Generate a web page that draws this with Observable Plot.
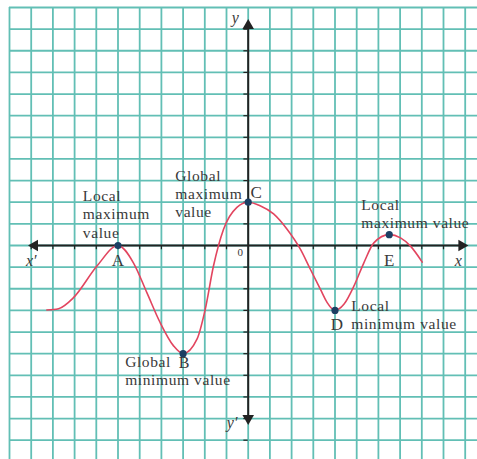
<!DOCTYPE html>
<html>
<head>
<meta charset="utf-8">
<script src="https://cdn.jsdelivr.net/npm/d3@7"></script>
<script src="https://cdn.jsdelivr.net/npm/@observablehq/plot@0.6"></script>
<style>
  html, body { margin: 0; padding: 0; background: #fff; }
  #chart svg { display: block; }
  #chart .note text, #chart text.note { letter-spacing: 0.6px; }
</style>
</head>
<body>
<div id="chart"></div>
<script>
// Graph-paper lines (one per unit)
const gridX = [-11, -10, -9, -8, -7, -6, -5, -4, -3, -2, -1, 0, 1, 2, 3, 4, 5, 6, 7, 8, 9, 10];
const gridY = [11, 10, 9, 8, 7, 6, 5, 4, 3, 2, 1, 0, -1, -2, -3, -4, -5, -6, -7, -8, -9];

// Unit ticks along the axes
const tickX = [-10, -9, -8, -7, -6, -5, -4, -3, -2, -1, 1, 2, 3, 4, 5, 6, 7, 8, 9];
const tickY = [10, 9, 8, 7, 6, 5, 4, 3, 2, 1, -1, -2, -3, -4, -5, -6, -7, -8, -9];

// Points sampled along the curve
const curveX = [-9.28, -8.74, -8.05, -6.97, -6, -5.29, -4.67, -4.06, -3.44, -3, -2.36, -1.98, -1.6, -1.14, -0.52, 0, 0.55, 1.17, 1.8, 2.41, 2.87, 3.33, 3.64, 4, 4.41, 4.87, 5.33, 5.79, 6.5, 7.02, 7.48, 8.02];
const curveY = [-2.98, -2.92, -2.41, -0.95, 0, -0.8, -2.18, -3.56, -4.64, -5, -4.33, -2.95, -0.95, 0.74, 1.76, 2, 1.84, 1.46, 0.74, -0.18, -1.11, -2.03, -2.64, -3, -2.72, -1.88, -0.8, 0.12, 0.5, 0.35, -0.03, -0.77];

// Turning points
const extremaName = ["A", "B", "C", "D", "E"];
const extremaX = [-6, -3, 0, 4, 6.5];
const extremaY = [0, -5, 2, -3, 0.5];

const curve = curveX.map((x, i) => ({x, y: curveY[i]}));
const extrema = extremaName.map((name, i) => ({name, x: extremaX[i], y: extremaY[i]}));
const pt = (name) => extrema.filter((d) => d.name === name);

const gridColor = "#62bfb5";
const ink = "#222";
const serif = "Liberation Serif, Times New Roman, serif";
const textColor = "#3a3a3a";

const note = (text, x, y) =>
  Plot.text([text], {
    text: (d) => d, x, y,
    textAnchor: "start", lineAnchor: "middle", lineHeight: 1.17,
    fontFamily: serif, fontSize: 15.5, fill: textColor, className: "note"
  });

const letter = (name, dx, dy, size = 17) =>
  Plot.text(pt(name), {
    x: "x", y: "y", text: "name", dx, dy,
    fontFamily: serif, fontSize: size, fill: textColor
  });

const axisLabel = (text, x, y) =>
  Plot.text([text], {
    text: (d) => d, x, y,
    fontFamily: serif, fontStyle: "italic", fontSize: 16, fill: textColor
  });

const chart = Plot.plot({
  width: 477,
  height: 459,
  margin: 0,
  style: {background: "#fff"},
  x: {domain: [-11, 10], range: [9, 464.7], axis: null},
  y: {domain: [-9, 11], range: [439.7, 7], axis: null},
  marks: [
    // graph paper
    Plot.ruleX(gridX, {y1: 11, y2: -10.2, stroke: gridColor, strokeWidth: 1.8}),
    Plot.ruleY(gridY, {x1: -11, x2: 10.7, stroke: gridColor, strokeWidth: 1.8}),

    // coordinate axes
    Plot.ruleY([0], {x1: -9.9, x2: 9.9, stroke: ink, strokeWidth: 2}),
    Plot.ruleX([0], {y1: -8.1, y2: 10.2, stroke: ink, strokeWidth: 2}),
    Plot.ruleX(tickX, {y1: 0, y2: -0.2, stroke: ink, strokeWidth: 1.2}),
    Plot.ruleY(tickY, {x1: -0.2, x2: 0, stroke: ink, strokeWidth: 1.2}),

    // arrowheads
    Plot.dot([10.14], {x: (d) => d, y: 0, symbol: "triangle", r: 4.3, rotate: 90, dx: -6.5, fill: ink, stroke: null}),
    Plot.dot([-10.14], {x: (d) => d, y: 0, symbol: "triangle", r: 4.3, rotate: -90, dx: 6.5, fill: ink, stroke: null}),
    Plot.dot([10.46], {x: 0, y: (d) => d, symbol: "triangle", r: 4.3, rotate: 0, dy: 6.5, fill: ink, stroke: null}),
    Plot.dot([-8.29], {x: 0, y: (d) => d, symbol: "triangle", r: 4.3, rotate: 180, dy: -6.5, fill: ink, stroke: null}),

    // the function
    Plot.line(curve, {x: "x", y: "y", curve: "monotone-x", stroke: "#e2455f", strokeWidth: 1.6}),
    Plot.dot(extrema, {x: "x", y: "y", r: 3.6, fill: "#1c3f63", stroke: null}),

    // axis names
    axisLabel("x\u2032", -10.0, -0.7),
    axisLabel("x", 9.68, -0.7),
    axisLabel("y", -0.6, 10.5),
    axisLabel("y\u2032", -0.74, -8.2),
    Plot.text(["0"], {text: (d) => d, x: -0.37, y: -0.3, fontFamily: serif, fontSize: 11, fill: textColor}),

    // point names
    letter("A", 0, 15),
    letter("B", 1, 9.5, 16),
    letter("C", 8, -10),
    letter("D", 2, 14),
    letter("E", 0, 26),

    // descriptions
    note("Local\nmaximum\nvalue", -7.62, 1.47),
    note("Global\nmaximum\nvalue", -3.36, 2.4),
    note("Global\nminimum value", -5.67, -5.75),
    note("Local\nminimum value", 4.75, -3.16),
    note("Local\nmaximum value", 5.21, 1.48)
  ]
});

document.getElementById("chart").append(chart);
</script>
</body>
</html>
